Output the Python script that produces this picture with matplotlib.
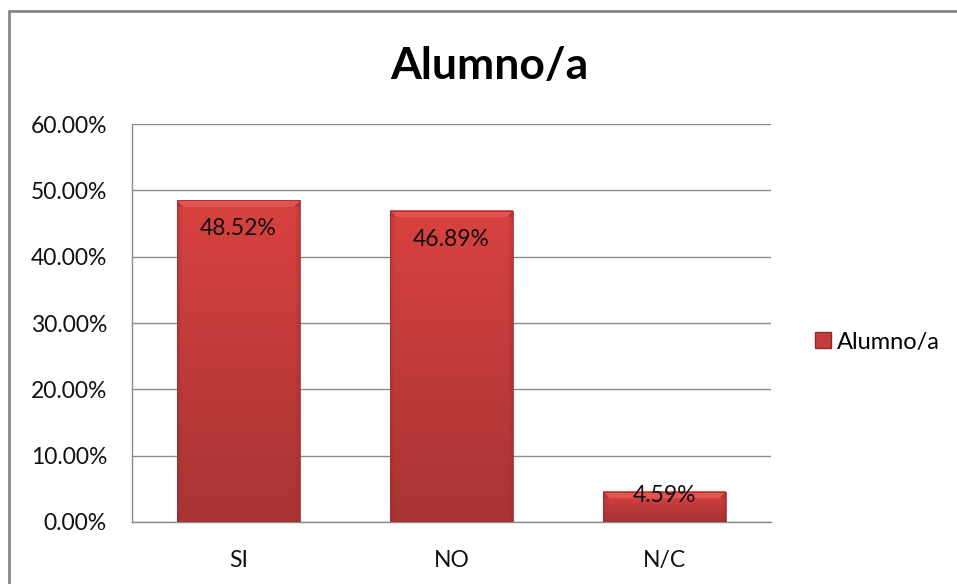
import numpy as np
import matplotlib
matplotlib.use("Agg")
import matplotlib.pyplot as plt
from matplotlib.patches import Rectangle
from matplotlib.ticker import FuncFormatter, MultipleLocator
from matplotlib.lines import Line2D

categories = ["SI", "NO", "N/C"]
values = [48.52, 46.89, 4.59]
series_name = "Alumno/a"
title = "Alumno/a"

W, H = 957, 584
plt.rcParams['font.family'] = ['Lato', 'DejaVu Sans']
fig = plt.figure(figsize=(W / 100, H / 100), dpi=100)
ax = fig.add_axes([132 / W, 1 - 522 / H, (771 - 132) / W, (522 - 124) / H])

FS = 16.5
ax.set_xlim(-0.5, len(categories) - 0.5)
ax.set_ylim(0, 60)
ax.yaxis.set_major_locator(MultipleLocator(10))
ax.yaxis.set_major_formatter(FuncFormatter(lambda v, p: f"{v:.2f}%"))
ax.set_xticks(range(len(categories)))
ax.set_xticklabels(categories)
ax.tick_params(axis='both', length=0, labelsize=FS, colors='#111111')
ax.tick_params(axis='y', pad=18)
ax.tick_params(axis='x', pad=20)
ax.grid(axis='y', color='#8c8c8c', linewidth=1)
ax.set_axisbelow(True)
for s in ['top', 'right']:
    ax.spines[s].set_visible(False)
for s in ['left', 'bottom']:
    ax.spines[s].set_color('#8c8c8c')
    ax.spines[s].set_linewidth(1)

bar_w = 0.577
top_c = np.array([216, 66, 64]) / 255
bot_c = np.array([168, 52, 52]) / 255
bevel_c = np.array([228, 84, 82]) / 255
edge_c = np.array([150, 40, 40]) / 255

fig.canvas.draw()
for i, v in enumerate(values):
    x0, x1 = i - bar_w / 2, i + bar_w / 2
    (px0, py0), (px1, py1) = ax.transData.transform([(x0, 0), (x1, v)])
    wpx = max(int(round(px1 - px0)), 2)
    hpx = max(int(round(py1 - py0)), 2)
    t = np.linspace(0, 1, hpx)[:, None, None]  # 0 top, 1 bottom
    img = (top_c * (1 - t) + bot_c * t) * np.ones((hpx, wpx, 3))
    xx = np.arange(wpx)[None, :]
    yy = np.arange(hpx)[:, None]
    bev = 7
    dist = np.minimum(xx, wpx - 1 - xx)
    side = np.clip(1 - dist / 5.0, 0, 1)[..., None] * np.ones((hpx, 1, 1))
    img = img * (1 - 0.35 * side) + edge_c * 0.35 * side
    top_mask = (yy < bev) & (xx >= yy) & (xx <= wpx - 1 - yy)
    img[top_mask] = bevel_c
    corner_mask = (yy < bev) & ~top_mask
    img[corner_mask] = img[corner_mask] * 0.9
    ax.imshow(img, extent=(x0, x1, 0, v), aspect='auto', zorder=3,
              interpolation='bilinear')
    ax.add_patch(Rectangle((x0, 0), bar_w, v, fill=False, edgecolor='#9a3030',
                           linewidth=0.6, zorder=4))
    if hpx > 60:
        off, va = -13, 'top'
    else:
        off, va = -3, 'center'
    ax.annotate(f"{v:.2f}%", xy=(i, v), xytext=(0, off), textcoords='offset points',
                ha='center', va=va, fontsize=FS, color='#111111', zorder=5)

ax.set_xlim(-0.5, len(categories) - 0.5)
ax.set_ylim(0, 60)

fig.text(489 / W, 1 - 66 / H, title, ha='center', va='center', fontsize=32,
         fontweight='bold', color='#000000')

handle = Line2D([], [], marker='s', linestyle='none', markersize=11,
                markerfacecolor='#c43c3c', markeredgecolor='#8a2a2a')
fig.legend([handle], [series_name], loc='center left',
           bbox_to_anchor=(803 / W, 1 - 342 / H), frameon=False, fontsize=17,
           handletextpad=0.15, handlelength=0.9, borderaxespad=0)

fig.patches.append(Rectangle((9 / W, -0.05), 1.1, 1.05 - 11 / H, transform=fig.transFigure,
                             fill=False, edgecolor='#878787', linewidth=2, zorder=10))

fig.savefig("out.png", dpi=100)
